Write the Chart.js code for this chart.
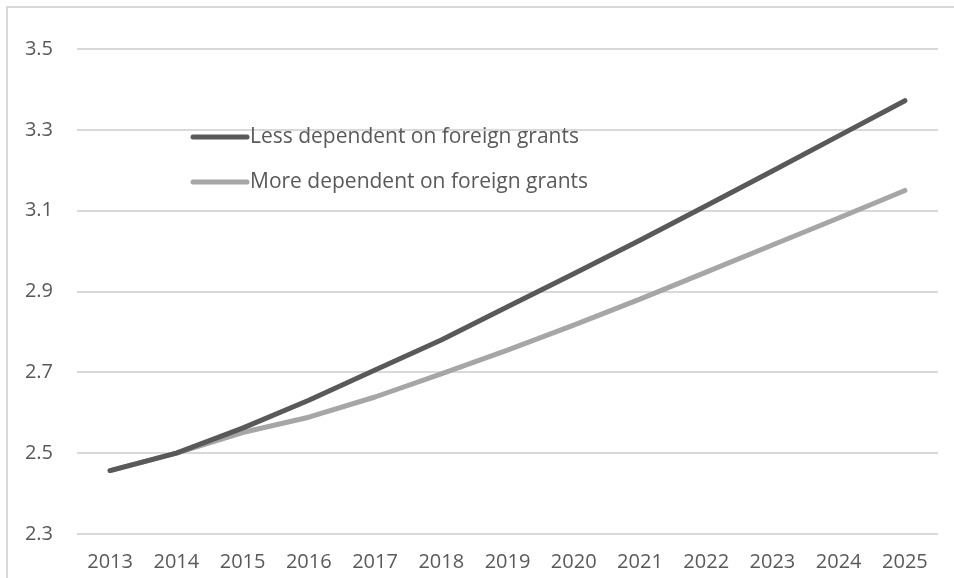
<!DOCTYPE html>
<html>
<head>
<meta charset="utf-8">
<title>Foreign grants dependence</title>
<script src="https://cdn.jsdelivr.net/npm/chart.js@4/dist/chart.umd.min.js"></script>
<style>
  html, body { margin: 0; padding: 0; background: #ffffff; }
  #wrap { position: relative; width: 954px; height: 578px; }
</style>
</head>
<body>
<div id="wrap"><canvas id="chart" width="954" height="578"></canvas></div>
<script>
// Years on the horizontal axis
const years = ['2013', '2014', '2015', '2016', '2017', '2018', '2019',
               '2020', '2021', '2022', '2023', '2024', '2025'];

// Projected values for each scenario
const lessDependent = [2.457, 2.500, 2.562, 2.631, 2.706, 2.780, 2.862,
                       2.944, 3.027, 3.112, 3.198, 3.285, 3.372];
const moreDependent = [2.457, 2.500, 2.551, 2.589, 2.639, 2.696, 2.755,
                       2.817, 2.881, 2.948, 3.015, 3.082, 3.150];

// Value-axis ticks
const yTicks = [2.3, 2.5, 2.7, 2.9, 3.1, 3.3, 3.5];

const seriesNames = ['Less dependent on foreign grants', 'More dependent on foreign grants'];

const textColor = '#595959';
const gridColor = '#d9d9d9';
const fontFamily = '"Open Sans", "Liberation Sans", sans-serif';

// Thin frame around the chart
const framePlugin = {
  id: 'frame',
  beforeDraw(chart) {
    const ctx = chart.ctx;
    ctx.save();
    ctx.strokeStyle = gridColor;
    ctx.lineWidth = 2;
    ctx.beginPath();
    ctx.moveTo(7, chart.height);
    ctx.lineTo(7, 7);
    ctx.lineTo(chart.width, 7);
    ctx.stroke();
    ctx.restore();
  }
};

// Legend drawn inside the plot area, upper left
const innerLegend = {
  id: 'innerLegend',
  afterDatasetsDraw(chart) {
    const ctx = chart.ctx;
    const area = chart.chartArea;
    const x0 = area.left + 116;
    const rows = [area.top + 88, area.top + 133];
    ctx.save();
    chart.data.datasets.forEach((ds, i) => {
      const y = rows[i];
      ctx.strokeStyle = ds.borderColor;
      ctx.lineWidth = 5;
      ctx.lineCap = 'round';
      ctx.beginPath();
      ctx.moveTo(x0, y);
      ctx.lineTo(x0 + 54, y);
      ctx.stroke();
      ctx.fillStyle = textColor;
      ctx.font = '21px ' + fontFamily;
      ctx.textBaseline = 'middle';
      ctx.textAlign = 'left';
      ctx.fillText(ds.label, x0 + 57, y);
    });
    ctx.restore();
  }
};

new Chart(document.getElementById('chart'), {
  type: 'line',
  data: {
    labels: years,
    datasets: [
      {
        label: seriesNames[0],
        data: lessDependent,
        borderColor: '#595959',
        backgroundColor: '#595959',
        borderWidth: 5,
        borderCapStyle: 'round',
        borderJoinStyle: 'round',
        pointRadius: 0,
        tension: 0,
        fill: false
      },
      {
        label: seriesNames[1],
        data: moreDependent,
        borderColor: '#a6a6a6',
        backgroundColor: '#a6a6a6',
        borderWidth: 5,
        borderCapStyle: 'round',
        borderJoinStyle: 'round',
        pointRadius: 0,
        tension: 0,
        fill: false
      }
    ]
  },
  options: {
    responsive: false,
    animation: false,
    devicePixelRatio: 1,
    layout: { padding: { left: 0, top: 49, right: 16, bottom: 0 } },
    plugins: {
      legend: { display: false },
      tooltip: { enabled: false }
    },
    scales: {
      x: {
        offset: true,
        grid: { display: false, drawTicks: false },
        border: { display: false },
        ticks: {
          color: textColor,
          font: { family: fontFamily, size: 20 },
          padding: 16,
          maxRotation: 0,
          autoSkip: false
        },
        afterFit(scale) { scale.height = 44; }
      },
      y: {
        min: 2.3,
        max: 3.5,
        afterBuildTicks(scale) {
          scale.ticks = yTicks.map(v => ({ value: v }));
        },
        grid: { color: gridColor, lineWidth: 2, drawTicks: false },
        border: { display: false },
        ticks: {
          color: textColor,
          font: { family: fontFamily, size: 20 },
          padding: 24,
          callback: v => v.toFixed(1)
        },
        afterFit(scale) { scale.width = 77; }
      }
    }
  },
  plugins: [framePlugin, innerLegend]
});
</script>
</body>
</html>
